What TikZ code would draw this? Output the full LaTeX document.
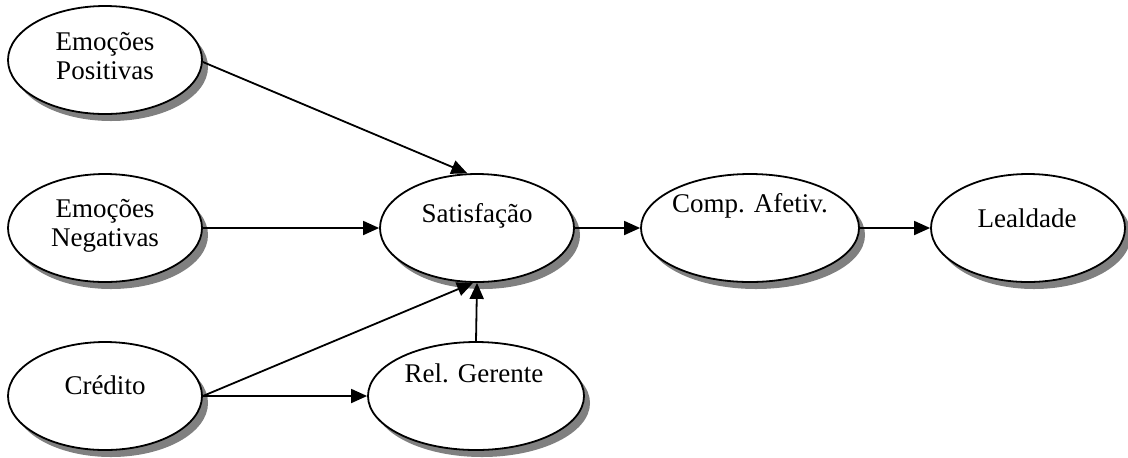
\documentclass[tikz,border=0pt]{standalone}
\usepackage{fontspec}
\setmainfont{Liberation Serif}
\usetikzlibrary{shapes.geometric,shadows,arrows.meta}

\tikzset{
  construct/.style={ellipse, draw, line width=0.9pt, fill=white, inner sep=0pt,
    minimum width=#1, minimum height=54pt,
    drop shadow={shadow xshift=3pt, shadow yshift=-3.5pt, fill=black!50, opacity=1}},
  construct/.default=97pt,
  lbl/.style={align=center, inner sep=0pt, font=\fontsize{13.5}{14.5}\selectfont},
  path/.style={line width=0.9pt, -{Triangle[length=8pt,width=7pt]}}
}

\begin{document}
\begin{tikzpicture}[x=0.5pt, y=-0.5pt]
  \useasboundingbox (0,0) rectangle (1128,457);

  % latent constructs
  \node[construct] (ep) at (105,60) {};
  \node[construct] (en) at (105,228) {};
  \node[construct] (cr) at (105,396) {};
  \node[construct] (sat) at (477,228) {};
  \node[construct=108pt] (rg) at (476,396) {};
  \node[construct=109pt] (ca) at (750,228) {};
  \node[construct] (le) at (1028,228) {};

  % construct names
  \node[lbl] (tep) at (105,56) {Emoções\\Positivas};
  \node[lbl] (ten) at (105,226) {Emoções\\Negativas};
  \node[lbl] (tcr) at (105,385) {Crédito};
  \node[lbl] (tsat) at (477,216) {Satisfação};
  \node[lbl] (trg) at (474,373) {Rel. Gerente};
  \node[lbl] (tca) at (750,206) {Comp. Afetiv.};
  \node[lbl] (tle) at (1027,218) {Lealdade};

  % structural paths
  \draw[path] ([yshift=-1pt]ep.east) -- (sat.100);
  \draw[path] (en.east) -- (sat.west);
  \draw[path] (cr.east) -- ([xshift=-2pt]sat.south);
  \draw[path] (cr.east) -- (rg.west);
  \draw[path] (rg.north) -- (sat.south);
  \draw[path] (sat.east) -- (ca.west);
  \draw[path] (ca.east) -- (le.west);
\end{tikzpicture}
\end{document}
